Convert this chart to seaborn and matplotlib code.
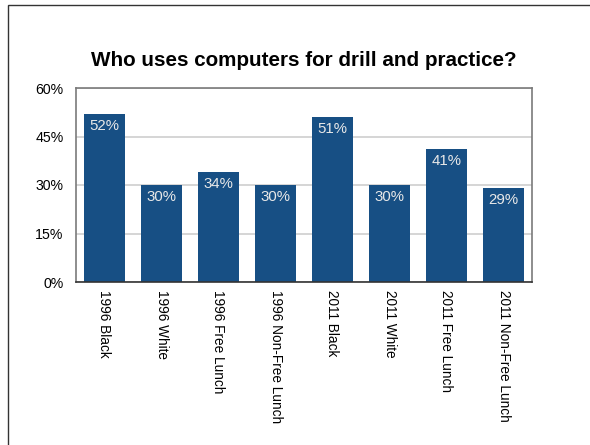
import matplotlib
matplotlib.use("Agg")
import matplotlib.pyplot as plt
from matplotlib.patches import Rectangle
from matplotlib.ticker import FuncFormatter
import seaborn as sns
import pandas as pd

categories = ["1996 Black", "1996 White", "1996 Free Lunch", "1996 Non-Free Lunch",
              "2011 Black", "2011 White", "2011 Free Lunch", "2011 Non-Free Lunch"]
values = [52, 30, 34, 30, 51, 30, 41, 29]
y_ticks = [0, 15, 30, 45, 60]
title = "Who uses computers for drill and practice?"

sns.set_theme(style="white")
plt.rcParams["font.family"] = ["Liberation Sans", "DejaVu Sans"]

df = pd.DataFrame({"group": categories, "share": values})

fig = plt.figure(figsize=(5.9, 4.45), dpi=100)
ax = fig.add_axes([76 / 590, 1 - 282 / 445, (532 - 76) / 590, (282 - 88) / 445])

bar_color = "#174f84"
sns.barplot(data=df, x="group", y="share", color=bar_color, saturation=1,
            width=0.71, linewidth=0, ax=ax)

ax.set_ylim(0, 60)
ax.set_xlim(-0.5, len(categories) - 0.5)
ax.set_yticks(y_ticks)
ax.yaxis.set_major_formatter(FuncFormatter(lambda v, _: f"{v:.0f}%"))
ax.set_xlabel("")
ax.set_ylabel("")
ax.set_xticks(range(len(categories)))
ax.set_xticklabels(categories, rotation=-90, fontsize=9.8, color="black")
ax.tick_params(axis="y", labelsize=10.2, length=3, width=1,
               color="#cccccc", pad=6)
ax.tick_params(axis="x", length=0, pad=6)
for lbl in ax.get_yticklabels():
    lbl.set_color("black")

ax.yaxis.grid(True, color="#d2d2d2", linewidth=1.3)
ax.set_axisbelow(True)

for side in ["top", "right", "left"]:
    ax.spines[side].set_visible(True)
    ax.spines[side].set_color("#7a7a7a")
    ax.spines[side].set_linewidth(1.2)
ax.spines["bottom"].set_color("#333333")
ax.spines["bottom"].set_linewidth(1.2)

for patch, val in zip(ax.patches, values):
    cx = patch.get_x() + patch.get_width() / 2
    ax.annotate(f"{val}%", xy=(cx, val), xytext=(0, -8.5), textcoords="offset points",
                ha="center", va="center", color="#e8e8e8", fontsize=10.8)

fig.text(304 / 590, 1 - 60 / 445, title, ha="center", va="center",
         fontsize=14.9, fontweight="bold", color="black")

# outer frame around the whole chart
fig.patches.append(Rectangle((8 / 590, -0.2), 1.2, 1.2 - 5 / 445,
                             transform=fig.transFigure, fill=False,
                             edgecolor="#333333", linewidth=1.0))

fig.savefig("out.png", dpi=100)
